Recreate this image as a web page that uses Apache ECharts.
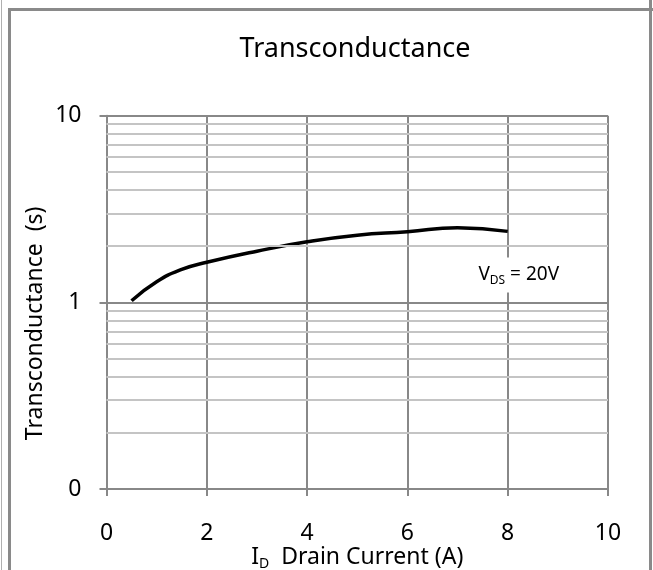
<!DOCTYPE html>
<html>
<head>
<meta charset="utf-8">
<script src="https://cdn.jsdelivr.net/npm/echarts@6/dist/echarts.min.js"></script>
<style>
html,body{margin:0;padding:0;background:#fff;}
#c{width:653px;height:570px;}
</style>
</head>
<body>
<div id="c"></div>
<script>
// Data
const currentA = [0.5, 1, 1.5, 2, 3, 4, 5, 6, 7, 8];
const transconductance = [1.02, 1.29, 1.50, 1.64, 1.88, 2.11, 2.29, 2.39, 2.51, 2.40];
const xTicks = [0, 2, 4, 6, 8, 10];
const yMajor = [0.1, 1, 10];
const yMinor = [0.2, 0.3, 0.4, 0.5, 0.6, 0.7, 0.8, 0.9, 2, 3, 4, 5, 6, 7, 8, 9];
const chartTitle = 'Transconductance';
const yTitle = 'Transconductance  (s)';
const annotation = { x: 8.22, y: 1.40, text: 'V', sub: 'DS', rest: ' = 20V' };

const FONT = '"Noto Sans", "DejaVu Sans", sans-serif';
const chart = echarts.init(document.getElementById('c'), null, { renderer: 'canvas' });

const option = {
  animation: false,
  backgroundColor: '#fff',
  title: {
    text: chartTitle,
    left: 350,
    textAlign: 'center',
    top: 31,
    textStyle: { fontFamily: FONT, fontSize: 27, fontWeight: 'normal', color: '#000' }
  },
  grid: { left: 106.5, right: 45, top: 115.7, bottom: 81, containLabel: false, outerBoundsMode: 'none' },
  xAxis: {
    type: 'value', min: 0, max: 10, interval: 2,
    name: '{i|I}{d|D}{n|  Drain Current (A)}',
    nameLocation: 'middle', nameGap: 55, nameMoveOverlap: false,
    nameTextStyle: {
      fontFamily: FONT, color: '#000',
      rich: {
        i: { fontFamily: FONT, fontSize: 23, color: '#000' },
        d: { fontFamily: FONT, fontSize: 14, color: '#000', verticalAlign: 'bottom', padding: [13, 0, 0, 0] },
        n: { fontFamily: FONT, fontSize: 23, color: '#000' }
      }
    },
    axisLine: { show: true, onZero: false, lineStyle: { color: '#888', width: 2 } },
    axisTick: { show: true, inside: false, length: 7, lineStyle: { color: '#888', width: 2 } },
    axisLabel: { fontFamily: FONT, fontSize: 23, color: '#000', margin: 33 },
    splitLine: { show: true, lineStyle: { color: '#888', width: 2 } }
  },
  yAxis: {
    type: 'log', logBase: 10, min: 0.1, max: 10,
    name: yTitle, nameLocation: 'middle', nameGap: 60, nameRotate: 90, nameMoveOverlap: false,
    nameTextStyle: { fontFamily: FONT, fontSize: 23, color: '#000', padding: [0, 42, 0, 0] },
    axisLine: { show: true, onZero: false, lineStyle: { color: '#888', width: 2 } },
    axisTick: { show: true, inside: false, length: 7, lineStyle: { color: '#888', width: 2 } },
    axisLabel: {
      fontFamily: FONT, fontSize: 23, color: '#000', margin: 25,
      formatter: function (v) { return v < 0.5 ? '0' : String(Math.round(v)); }
    },
    splitLine: { show: true, lineStyle: { color: '#888', width: 2 } }
  },
  series: [
    {
      name: 'minor', type: 'line', data: [], silent: true,
      markLine: {
        silent: true, symbol: ['none', 'none'], animation: false,
        label: { show: false },
        lineStyle: { color: '#c4c4c4', width: 2, type: 'solid' },
        data: yMinor.map(v => ({ yAxis: v }))
      }
    },
    {
      name: 'gfs', type: 'line', smooth: 0.5, showSymbol: false,
      data: currentA.map((x, i) => [x, transconductance[i]]),
      lineStyle: { color: '#000', width: 3.5 },
      markPoint: {
        symbol: 'rect', symbolSize: 0,
        data: [{ coord: [annotation.x, annotation.y] }],
        label: {
          show: true, position: 'inside',
          formatter: '{v|' + annotation.text + '}{s|' + annotation.sub + '}{v|' + annotation.rest + '}',
          backgroundColor: '#fff', padding: [6, 4, 6, 4],
          rich: {
            v: { fontFamily: FONT, fontSize: 19, color: '#000' },
            s: { fontFamily: FONT, fontSize: 12, color: '#000', verticalAlign: 'bottom', padding: [11, 0, 0, 0] }
          }
        }
      }
    }
  ],
  graphic: [
    { type: 'rect', shape: { x: 1, y: 0, width: 1, height: 570 }, style: { fill: '#b0b0b0' }, silent: true },
    { type: 'rect', shape: { x: 8, y: 8, width: 3, height: 562 }, style: { fill: '#8a8a8a' }, silent: true },
    { type: 'rect', shape: { x: 8, y: 8, width: 645, height: 3 }, style: { fill: '#8a8a8a' }, silent: true },
    { type: 'rect', shape: { x: 649, y: 0, width: 3, height: 570 }, style: { fill: '#8a8a8a' }, silent: true }
  ]
};
chart.setOption(option);
</script>
</body>
</html>
